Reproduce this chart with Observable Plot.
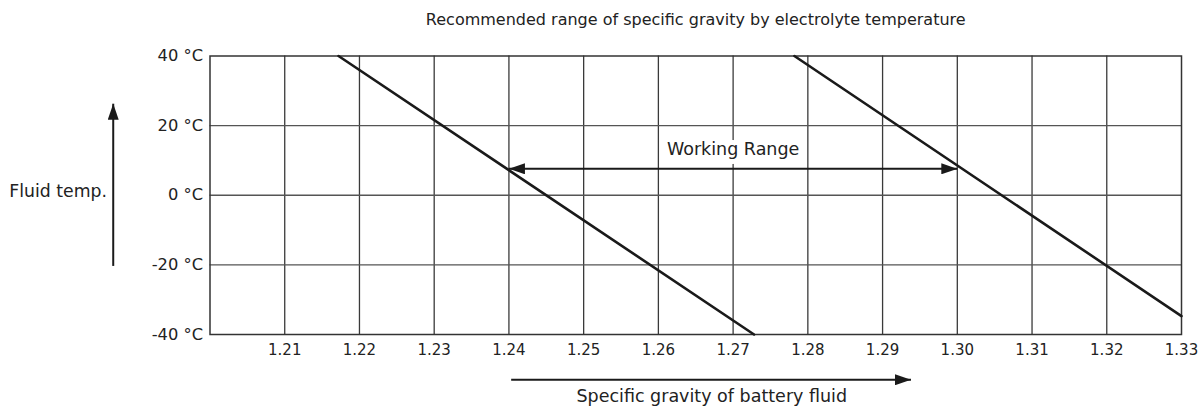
<!DOCTYPE html>
<html>
<head>
<meta charset="utf-8">
<script src="https://cdn.jsdelivr.net/npm/d3@7"></script>
<script src="https://cdn.jsdelivr.net/npm/@observablehq/plot@0.6"></script>
<style>
  html, body { margin: 0; padding: 0; background: #fff; }
  #chart svg { display: block; }
</style>
</head>
<body>
<div id="chart"></div>
<script>
// Specific gravity axis (x) and fluid temperature axis (y)
const sgDomain = [1.20, 1.33];
const sgTicks = [1.21, 1.22, 1.23, 1.24, 1.25, 1.26, 1.27, 1.28, 1.29, 1.30, 1.31, 1.32, 1.33];
const tempDomain = [-40, 40];
const tempTicks = [-40, -20, 0, 20, 40];

// Lower and upper limits of the recommended specific gravity (end points)
const lowerLimit = [{sg: 1.2172, temp: 40}, {sg: 1.2728, temp: -40}];
const upperLimit = [{sg: 1.2782, temp: 40}, {sg: 1.3300, temp: -34.7}];

// Working range, read at the same fluid temperature on both limits
const workingRange = [{from: 1.240, to: 1.300, temp: 7.6, label: "Working Range"}];

// Axis direction arrows drawn outside the frame
const tempArrow = [{x1: 1.18705, y1: -20.3, x2: 1.18705, y2: 26.3}];
const sgArrow = [{x1: 1.2403, y1: -53.0, x2: 1.2938, y2: -53.0}];

const title = "Recommended range of specific gravity by electrolyte temperature";
const xLabel = "Specific gravity of battery fluid";
const yLabel = "Fluid temp.";

const font = "'DejaVu Sans', 'Open Sans', sans-serif";
const ink = "#1a1a1a";

const chart = Plot.plot({
  width: 1198,
  height: 407,
  marginLeft: 209.5,
  marginRight: 17,
  marginTop: 55.5,
  marginBottom: 73,
  style: {fontFamily: font, fontSize: "16.3px", color: "#222", background: "#fff"},
  x: {domain: sgDomain, ticks: sgTicks, tickFormat: d3.format(".2f"), tickSize: 0, tickPadding: 10, label: null},
  y: {domain: tempDomain, ticks: tempTicks, tickFormat: d => `${d} °C`, tickSize: 0, tickPadding: 7, label: null},
  marks: [
    Plot.ruleX(sgTicks.slice(0, -1), {stroke: "#3a3a3a", strokeWidth: 1.3}),
    Plot.ruleY(tempTicks.slice(1, -1), {stroke: "#555", strokeWidth: 1.3}),
    Plot.frame({stroke: "#333", strokeWidth: 1.5}),
    Plot.line(lowerLimit, {x: "sg", y: "temp", stroke: ink, strokeWidth: 2.6}),
    Plot.line(upperLimit, {x: "sg", y: "temp", stroke: ink, strokeWidth: 2.6}),
    Plot.link(workingRange, {x1: "from", x2: "to", y1: "temp", y2: "temp", stroke: ink, strokeWidth: 2, markerStart: "arrow", markerEnd: "arrow"}),
    Plot.text(workingRange, {x: d => (d.from + d.to) / 2, y: "temp", text: "label", dy: -19, fontSize: 17.5, fill: "#222", stroke: "white", strokeWidth: 10}),
    Plot.link(tempArrow, {x1: "x1", y1: "y1", x2: "x2", y2: "y2", stroke: ink, strokeWidth: 2, markerEnd: "arrow"}),
    Plot.link(sgArrow, {x1: "x1", y1: "y1", x2: "x2", y2: "y2", stroke: ink, strokeWidth: 2, markerEnd: "arrow"}),
    Plot.text([title], {frameAnchor: "top", lineAnchor: "middle", text: d => d, dy: -36, fontSize: 16, fill: "#222"}),
    Plot.text([xLabel], {frameAnchor: "bottom", lineAnchor: "middle", text: d => d, dx: 16, dy: 62, fontSize: 17.5, fill: "#222"}),
    Plot.text([yLabel], {frameAnchor: "left", lineAnchor: "middle", text: d => d, textAnchor: "end", dx: -103, dy: -4, fontSize: 17.3, fill: "#222"})
  ]
});

// Slightly smaller specific-gravity tick labels so the last one fits the page
d3.select(chart).selectAll('g[aria-label^="x-axis"]').style("font-size", "15px");

// Solid, filled arrowheads for the range and axis arrows
d3.select(chart).selectAll("marker").each(function () {
  const m = d3.select(this);
  const color = m.attr("stroke") || ink;
  m.attr("viewBox", "-16 -5.5 16 11")
    .attr("markerWidth", 16)
    .attr("markerHeight", 11)
    .attr("markerUnits", "userSpaceOnUse")
    .attr("orient", "auto-start-reverse")
    .attr("refX", 0)
    .attr("refY", 0)
    .attr("fill", color)
    .attr("stroke", "none");
  m.selectAll("*").remove();
  m.append("path").attr("d", "M-16,-5.5L0,0L-16,5.5Z");
});

document.getElementById("chart").append(chart);
</script>
</body>
</html>
